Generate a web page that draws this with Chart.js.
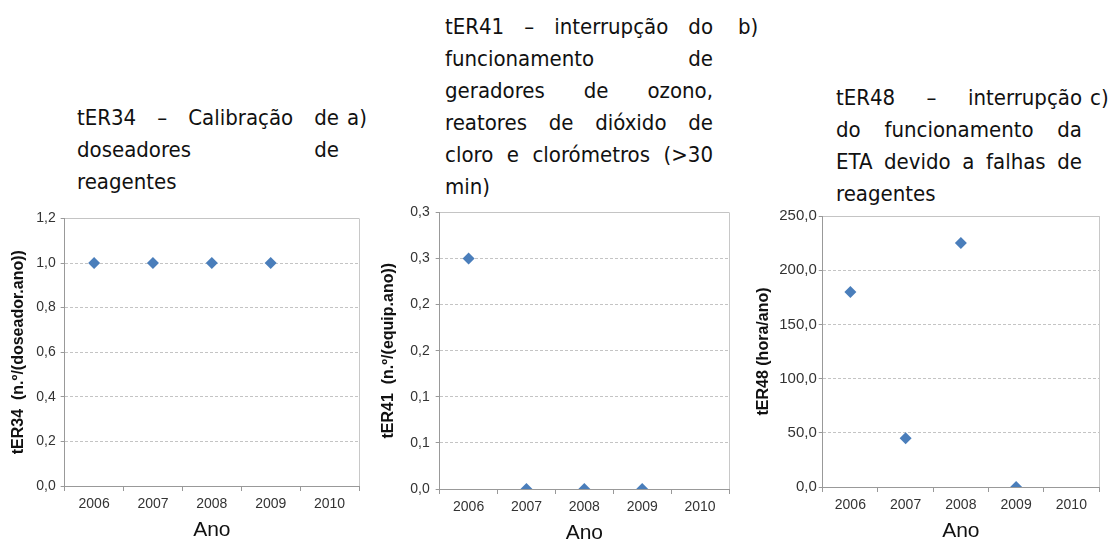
<!DOCTYPE html>
<html>
<head>
<meta charset="utf-8">
<script src="https://cdn.jsdelivr.net/npm/chart.js@4"></script>
<style>
  body { margin: 0; background: #fff; width: 1114px; height: 540px; position: relative; overflow: hidden; }
  .ttl { position: absolute; font-family: 'Liberation Sans Narrow', 'DejaVu Sans Condensed', sans-serif; font-size: 22px; line-height: 32px; color: #111; }
  .ttl div { white-space: nowrap; }
  .ttl .j { text-align: justify; text-align-last: justify; }
  .tag { position: absolute; font-family: 'Liberation Sans Narrow', 'DejaVu Sans Condensed', sans-serif; font-size: 22px; line-height: 32px; color: #111; }
  .box { position: absolute; }
</style>
</head>
<body>
<div class="ttl" style="left:77px; top:102px; width:262px;">
  <div class="j">tER34 – Calibração de</div>
  <div class="j">doseadores de</div>
  <div>reagentes</div>
</div>
<div class="tag" style="left:347px; top:102px;">a)</div>
<div class="ttl" style="left:445px; top:11px; width:268px;">
  <div class="j">tER41 – interrupção do</div>
  <div class="j">funcionamento de</div>
  <div class="j">geradores de ozono,</div>
  <div class="j">reatores de dióxido de</div>
  <div class="j">cloro e clorómetros (&gt;30</div>
  <div>min)</div>
</div>
<div class="tag" style="left:738px; top:11px;">b)</div>
<div class="ttl" style="left:836px; top:82px; width:246px;">
  <div class="j">tER48 – interrupção</div>
  <div class="j">do funcionamento da</div>
  <div class="j">ETA devido a falhas de</div>
  <div>reagentes</div>
</div>
<div class="tag" style="left:1090px; top:82px;">c)</div>

<div class="box" style="left:0; top:205px; width:368px; height:338px;"><canvas id="chartA"></canvas></div>
<div class="box" style="left:370px; top:198px; width:368px; height:348px;"><canvas id="chartB"></canvas></div>
<div class="box" style="left:740px; top:205px; width:372px; height:339px;"><canvas id="chartC"></canvas></div>

<script>
// dados
const anos = ['2006', '2007', '2008', '2009', '2010'];
const ter34 = [1.0, 1.0, 1.0, 1.0, null];
const ter41 = [0.25, 0, 0, 0, null];
const ter48 = [180, 45, 225, 0, null];
const ticksA = ['0,0', '0,2', '0,4', '0,6', '0,8', '1,0', '1,2'];
const ticksB = ['0,0', '0,1', '0,1', '0,2', '0,2', '0,3', '0,3'];
const ticksC = ['0,0', '50,0', '100,0', '150,0', '200,0', '250,0'];

const corSerie = '#4a7ebb';
const fonteEixo = "'Liberation Sans', Arial, sans-serif";

// moldura direita da área do gráfico
const moldura = {
    id: 'moldura',
    afterDraw: function(chart) {
        const a = chart.chartArea, ctx = chart.ctx;
        ctx.save();
        ctx.strokeStyle = '#c8c8c8';
        ctx.lineWidth = 1;
        ctx.beginPath();
        ctx.moveTo(a.right + 0.5, a.top);
        ctx.lineTo(a.right + 0.5, a.bottom);
        ctx.stroke();
        ctx.restore();
    }
};

function criarGrafico(id, dados, max, passo, rotulos, tituloY, padding, esp) {
    new Chart(document.getElementById(id), {
        type: 'line',
        data: {
            labels: anos,
            datasets: [{
                data: dados,
                showLine: false,
                pointStyle: 'rectRot',
                pointRadius: 6,
                pointHoverRadius: 6,
                backgroundColor: corSerie,
                borderColor: corSerie,
                borderWidth: 0
            }]
        },
        options: {
            responsive: true,
            maintainAspectRatio: false,
            animation: false,
            layout: { padding: padding },
            plugins: { legend: { display: false }, tooltip: { enabled: false } },
            scales: {
                x: {
                    offset: true,
                    grid: { drawOnChartArea: false, drawTicks: true, tickLength: 5, offset: true, color: '#999' },
                    border: { color: '#999', width: 1 },
                    ticks: { color: '#333', padding: 5, font: { family: fonteEixo, size: 14 } },
                    title: { display: true, text: 'Ano', color: '#111', padding: { top: 0, bottom: 0 }, font: { family: fonteEixo, size: 21 } }
                },
                y: {
                    min: 0,
                    max: max,
                    grid: {
                        color: '#c4c4c4',
                        drawTicks: true, tickLength: 4, tickColor: '#999'
                    },
                    border: {
                        color: '#999', width: 1,
                        dash: function(c) { return c.tick && c.tick.value >= max - 1e-9 ? [] : [3, 2]; }
                    },
                    ticks: {
                        stepSize: passo,
                        color: '#333',
                        padding: esp.tick,
                        font: { family: fonteEixo, size: esp.fonte },
                        callback: function(v, i) { return rotulos[i]; }
                    },
                    title: { display: true, text: tituloY, color: '#111', padding: { top: 0, bottom: esp.titulo }, font: { family: fonteEixo, size: 16, weight: 'bold' } }
                }
            }
        },
        plugins: [moldura]
    });
}

criarGrafico('chartA', ter34, 1.2, 0.2, ticksA, 'tER34  (n.º/(doseador.ano))',
    { left: 9, right: 9, top: 10, bottom: 0 }, { tick: 5, titulo: 3, fonte: 14 });
criarGrafico('chartB', ter41, 0.3, 0.05, ticksB, 'tER41  (n.º/(equip.ano))',
    { left: 9, right: 9, top: 9, bottom: 0 }, { tick: 6, titulo: 6, fonte: 14 });
criarGrafico('chartC', ter48, 250, 50, ticksC, 'tER48 (hora/ano)',
    { left: 14, right: 13, top: 10, bottom: 0 }, { tick: 2, titulo: 4, fonte: 15 });
</script>
</body>
</html>
